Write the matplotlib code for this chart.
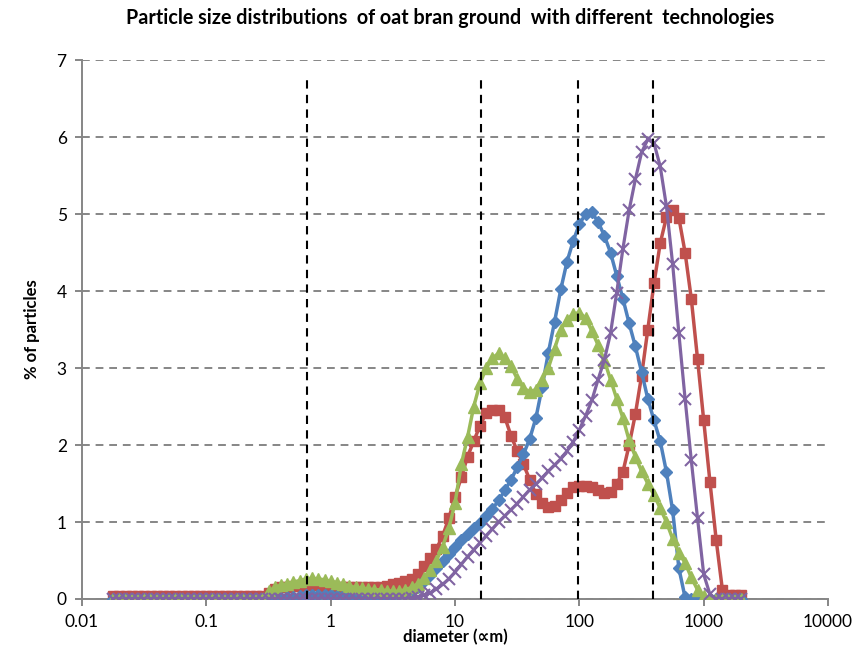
import matplotlib
matplotlib.use('Agg')
import matplotlib.pyplot as plt

plt.rcParams['font.family'] = ['Lato', 'DejaVu Sans']

# particle diameters (um), laser diffraction size classes
diameter = [0.0178, 0.020, 0.0224, 0.0252, 0.0283, 0.0317, 0.0356, 0.0399, 0.0448, 0.0502,
            0.0564, 0.0632, 0.0710, 0.0796, 0.0893,
            0.100, 0.112, 0.126, 0.142, 0.159, 0.178, 0.200, 0.224, 0.252, 0.283,
            0.317, 0.356, 0.399, 0.448, 0.502, 0.564, 0.632, 0.710, 0.796, 0.893,
            1.002, 1.125, 1.262, 1.416, 1.589, 1.783, 2.000, 2.244, 2.518, 2.825,
            3.170, 3.557, 3.991, 4.477, 5.024, 5.637, 6.325, 7.096, 7.962, 8.934,
            10.02, 11.25, 12.62, 14.16, 15.89, 17.83, 20.00, 22.44, 25.18, 28.25,
            31.70, 35.57, 39.91, 44.77, 50.24, 56.37, 63.25, 70.96, 79.62, 89.34,
            100.2, 112.5, 126.2, 141.6, 158.9, 178.3, 200.0, 224.4, 251.8, 282.5,
            317.0, 355.7, 399.1, 447.7, 502.4, 563.7, 632.5, 709.6, 796.2, 893.4,
            1002, 1125, 1262, 1416, 1589, 1783, 2000]

blue = [0, 0, 0, 0, 0, 0, 0, 0, 0, 0, 0, 0, 0, 0, 0,
        0, 0, 0, 0, 0, 0, 0, 0, 0, 0, 0, 0, 0.01, 0.02, 0.03,
        0.04, 0.05, 0.05, 0.05, 0.05,
        0.05, 0.04, 0.04, 0.03, 0.03, 0.03, 0.03, 0.03, 0.04, 0.04,
        0.05, 0.06, 0.08, 0.11, 0.16, 0.23, 0.31, 0.40, 0.49, 0.58,
        0.67, 0.76, 0.84, 0.92, 0.99, 1.08, 1.17, 1.28, 1.41, 1.55,
        1.71, 1.88, 2.08, 2.35, 2.75, 3.20, 3.60, 4.02, 4.38, 4.65,
        4.87, 5.00, 5.02, 4.90, 4.72, 4.50, 4.20, 3.90, 3.58, 3.28,
        2.95, 2.60, 2.32, 2.05, 1.65, 1.15, 0.40, 0.02, 0, 0,
        0, 0, 0, 0, 0, 0, 0]

red = [0.04, 0.04, 0.04, 0.04, 0.04, 0.04, 0.04, 0.04, 0.04, 0.04, 0.04, 0.04, 0.04, 0.04, 0.04,
       0.04, 0.04, 0.04, 0.04, 0.04, 0.04, 0.04, 0.04, 0.04, 0.04, 0.08, 0.13, 0.15, 0.16, 0.17,
       0.17, 0.18, 0.18, 0.18, 0.17,
       0.17, 0.16, 0.16, 0.15, 0.15, 0.15, 0.15, 0.15, 0.16, 0.17,
       0.19, 0.21, 0.23, 0.26, 0.33, 0.43, 0.53, 0.65, 0.82, 1.05,
       1.33, 1.58, 1.85, 2.05, 2.25, 2.42, 2.46, 2.45, 2.36, 2.12,
       1.92, 1.75, 1.55, 1.36, 1.25, 1.20, 1.21, 1.28, 1.38, 1.45,
       1.47, 1.47, 1.45, 1.41, 1.38, 1.39, 1.50, 1.65, 2.00, 2.40,
       2.90, 3.50, 4.10, 4.62, 4.96, 5.05, 4.95, 4.50, 3.90, 3.12,
       2.32, 1.52, 0.77, 0.12, 0.05, 0.05, 0.05]

green = [0, 0, 0, 0, 0, 0, 0, 0, 0, 0, 0, 0, 0, 0, 0,
         0, 0, 0, 0, 0, 0, 0, 0, 0, 0, 0.10, 0.15, 0.18, 0.20, 0.22,
         0.24, 0.26, 0.27, 0.26, 0.25,
         0.23, 0.21, 0.19, 0.17, 0.15, 0.14, 0.13, 0.12, 0.12, 0.11,
         0.10, 0.10, 0.12, 0.15, 0.20, 0.27, 0.38, 0.50, 0.68, 0.92,
         1.25, 1.75, 2.10, 2.50, 2.80, 3.00, 3.13, 3.19, 3.13, 3.02,
         2.86, 2.74, 2.69, 2.72, 2.85, 3.00, 3.25, 3.50, 3.63, 3.70,
         3.72, 3.65, 3.48, 3.30, 3.10, 2.85, 2.60, 2.35, 2.06, 1.85,
         1.66, 1.50, 1.35, 1.18, 1.00, 0.78, 0.60, 0.47, 0.28, 0.12,
         0.04, 0, 0, 0, 0, 0, 0]

purple = [0, 0, 0, 0, 0, 0, 0, 0, 0, 0, 0, 0, 0, 0, 0,
          0, 0, 0, 0, 0, 0, 0, 0, 0, 0, 0, 0, 0, 0, 0,
          0, 0, 0, 0, 0,
          0, 0, 0, 0, 0, 0, 0, 0, 0, 0,
          0, 0, 0, 0.01, 0.03, 0.05, 0.08, 0.13, 0.19, 0.26,
          0.35, 0.45, 0.55, 0.64, 0.73, 0.82, 0.91, 1.00, 1.08, 1.16,
          1.24, 1.33, 1.42, 1.49, 1.57, 1.66, 1.74, 1.82, 1.92, 2.04,
          2.20, 2.38, 2.58, 2.85, 3.10, 3.45, 3.98, 4.55, 5.05, 5.45,
          5.80, 5.97, 5.92, 5.62, 5.10, 4.35, 3.45, 2.60, 1.80, 1.05,
          0.32, 0.06, 0, 0, 0, 0, 0]

# reference diameters marked with dashed lines
markers_d = [0.65, 16.2, 98, 395]

xtick_vals = [0.01, 0.1, 1, 10, 100, 1000, 10000]
xtick_labels = ['0.01', '0.1', '1', '10', '100', '1000', '10000']

fig = plt.figure(figsize=(8.56, 6.54), dpi=100)
ax = fig.add_axes([0.0958, 0.0841, 0.8714, 0.8241])

ax.plot(diameter, red, color='#C0504D', lw=2.5, marker='s', ms=7.5, zorder=3)
ax.plot(diameter, blue, color='#4F81BD', lw=2.5, marker='D', ms=6.2, zorder=4)
ax.plot(diameter, green, color='#9BBB59', lw=2.5, marker='^', ms=8.5, zorder=5)
ax.plot(diameter, purple, color='#8064A2', lw=2.3, marker='x', ms=8.5, mew=1.5, zorder=6)

for d in markers_d:
    ax.plot([d, d], [0, 6.8], color='black', lw=1.5, ls=(0, (4, 3)), zorder=7)

ax.set_xscale('log')
ax.set_xlim(0.01, 10000)
ax.set_ylim(0, 7)
ax.set_xticks(xtick_vals)
ax.set_xticklabels(xtick_labels)
ax.minorticks_off()
ax.set_yticks(range(8))

ax.yaxis.grid(True, color='#868686', ls=(0, (4, 3)), lw=1.4)
ax.set_axisbelow(True)
for s in ['top', 'right']:
    ax.spines[s].set_visible(False)
for s in ['left', 'bottom']:
    ax.spines[s].set_color('#868686')
    ax.spines[s].set_linewidth(1.4)
ax.tick_params(direction='out', length=5, color='#868686', width=1.4,
               labelsize=12.5, pad=6)

ax.set_xlabel('diameter (∝m)', fontsize=12, fontweight='bold', labelpad=-1)
ax.set_ylabel('% of particles', fontsize=12, fontweight='bold', labelpad=12)
fig.suptitle('Particle size distributions  of oat bran ground  with different  technologies',
             fontsize=14.2, fontweight='bold', x=0.526, y=0.988)

fig.savefig('out.png', dpi=100)
